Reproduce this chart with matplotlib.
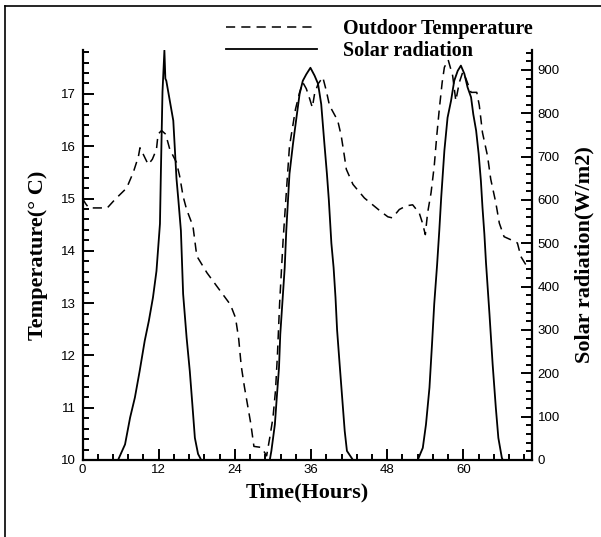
import matplotlib.pyplot as plt
from matplotlib.lines import Line2D
from matplotlib.ticker import MultipleLocator

# outdoor temperature (deg C) over three days
hours_temp = [0, 0.5, 1.0, 2.75, 3.9, 5.1, 6.95, 8.0, 8.8, 9.05, 9.55, 10.35, 11.0,
              11.65, 11.9, 12.45, 13.1, 13.75, 14.8, 15.3, 15.85, 16.4, 17.4, 18.0,
              19.6, 21.6, 23.3, 24.1, 24.6, 25.0, 25.5, 26.0, 26.5, 27.0, 28.2, 29.0,
              29.5, 30.0, 30.4, 30.7, 31.05, 31.6, 32.1, 32.6, 33.55, 34.2, 34.7,
              35.25, 35.8, 36.2, 36.55, 37.1, 37.85, 38.4, 38.9, 40.2, 40.75, 41.25,
              41.55, 42.6, 44.4, 45.7, 47.0, 48.1, 48.8, 49.9, 51.0, 52.0, 53.05,
              53.5, 54.0, 54.35, 54.9, 55.4, 55.8, 56.2, 56.65, 57.0, 57.6, 58.3,
              58.8, 59.35, 59.9, 60.4, 61.2, 62.1, 62.5, 63.0, 63.8, 64.3, 65.1,
              65.65, 66.4, 67.5, 68.5, 69.05, 70.0]
outdoor_temp = [15.0, 14.9, 14.82, 14.82, 14.82, 14.98, 15.2, 15.5, 15.8, 15.97, 15.85,
                15.65, 15.75, 15.94, 16.23, 16.3, 16.23, 15.94, 15.69, 15.43, 15.04,
                14.79, 14.47, 13.9, 13.58, 13.25, 12.97, 12.72, 12.32, 11.8, 11.4,
                11.05, 10.7, 10.26, 10.24, 10.08, 10.43, 10.81, 11.33, 12.0, 13.0,
                14.21, 15.11, 16.0, 16.71, 17.03, 17.22, 17.1, 16.9, 16.74, 17.0,
                17.19, 17.32, 17.06, 16.78, 16.49, 16.2, 15.81, 15.56, 15.27, 15.01,
                14.88, 14.75, 14.65, 14.63, 14.79, 14.86, 14.88, 14.72, 14.55, 14.31,
                14.72, 15.11, 15.62, 16.2, 16.71, 17.22, 17.51, 17.65, 17.35, 16.87,
                17.22, 17.42, 17.29, 17.03, 17.03, 16.78, 16.26, 15.81, 15.37, 14.92,
                14.53, 14.27, 14.21, 14.15, 13.89, 13.7]

# solar radiation (W/m2)
hours_solar = [0, 5.6, 6.7, 7.5, 8.25, 9.0, 9.8, 10.45, 11.1, 11.65, 12.2, 12.35, 12.6,
               12.9, 13.05, 13.2, 13.75, 14.3, 14.5, 14.8, 15.1, 15.5, 15.85, 16.4,
               16.9, 17.3, 17.7, 18.2, 18.7,
               29.5, 29.75, 30.3, 30.6, 30.95, 31.15, 31.5, 31.85, 32.1, 32.6, 33.15,
               33.7, 34.2, 34.7, 35.25, 35.9, 36.55, 37.1, 37.6, 38.1, 38.5, 38.8,
               39.2, 39.55, 39.85, 40.1, 40.5, 40.9, 41.3, 41.65, 42.6,
               52.8, 53.6, 54.1, 54.65, 55.05, 55.4, 55.85, 56.2, 56.5, 57.0, 57.5,
               58.05, 58.55, 59.1, 59.6, 60.15, 60.65, 61.2, 61.55, 62.0, 62.4, 62.75,
               63.0, 63.3, 63.55, 64.1, 64.6, 65.1, 65.5, 66.05, 66.2, 70.8]
solar_rad = [0, 0, 36, 98, 144, 205, 275, 321, 375, 436, 545, 667, 850,
             945, 880, 875, 829, 783, 730, 650, 600, 529, 383, 282,
             205, 129, 51, 14, 0,
             0, 21, 82, 144, 213, 290, 367, 444, 530, 660, 729,
             790, 845, 875, 890, 905, 887, 868, 821, 730, 660, 600,
             500, 444, 375, 300, 221, 144, 67, 21, 0,
             0, 28, 82, 167, 267, 360, 450, 530, 606, 714, 790,
             829, 875, 898, 910, 891, 860, 837, 798, 760, 706, 644,
             583, 521, 456, 337, 221, 121, 51, 5, 0, 0]

x_ticks = [0, 12, 24, 36, 48, 60]

plt.rcParams['font.family'] = 'Liberation Sans'
label_font = dict(family='Liberation Serif', weight='bold', fontsize=16)

fig = plt.figure(figsize=(6.01, 5.37), dpi=100)
ax = fig.add_axes([82.5 / 601, 77 / 537, 449.5 / 601, 410 / 537])
ax2 = ax.twinx()

line_t, = ax.plot(hours_temp, outdoor_temp, color='black', lw=1.1,
                  dashes=(6.0, 4.0), label='Outdoor Temperature')
line_s, = ax2.plot(hours_solar, solar_rad, color='black', lw=1.3,
                   label='Solar radiation')

ax.set_xlim(0, 70.8)
ax.set_ylim(10, 17.84)
ax2.set_ylim(0, 946)

ax.set_xticks(x_ticks)
ax.xaxis.set_minor_locator(MultipleLocator(2.4))
ax.yaxis.set_major_locator(MultipleLocator(1))
ax.yaxis.set_minor_locator(MultipleLocator(0.2))
ax2.yaxis.set_major_locator(MultipleLocator(100))
ax2.yaxis.set_minor_locator(MultipleLocator(20))

for a in (ax, ax2):
    a.spines['top'].set_visible(False)
    for s in a.spines.values():
        s.set_linewidth(1.6)
    a.tick_params(which='major', direction='in', length=8, width=1.4, labelsize=9.5)
    a.tick_params(which='minor', direction='in', length=4.5, width=1.4)
ax.spines['right'].set_visible(False)
ax2.spines['left'].set_visible(False)
ax2.spines['bottom'].set_visible(False)
ax.tick_params(axis='y', pad=5)
ax.tick_params(axis='x', pad=3)
ax2.tick_params(axis='y', pad=4)

ax.set_xlabel('Time(Hours)', **label_font)
ax.xaxis.set_label_coords(0.5, -0.08)
ax.xaxis.label.set_va('center')
ax.set_ylabel('Temperature(° C)', **label_font)
ax.yaxis.set_label_coords(-0.1, 0.5)
ax.yaxis.label.set_va('center')
ax2.set_ylabel('Solar radiation(W/m2)', **label_font)
ax2.yaxis.set_label_coords(1.116, 0.5)
ax2.yaxis.label.set_va('center')

fig.legend(handles=[line_t, line_s], loc='upper left',
           bbox_to_anchor=(226 / 601, 1 - 19 / 537), frameon=False,
           prop=dict(family='Liberation Serif', weight='bold', size=14.5),
           handlelength=4.5, handletextpad=1.3, labelspacing=0.1,
           borderpad=0, borderaxespad=0)

# outer frame, left and top edges
fig.add_artist(Line2D([5 / 601, 5 / 601], [0, 1 - 6 / 537], transform=fig.transFigure,
                      color='black', lw=1.2))
fig.add_artist(Line2D([5 / 601, 1], [1 - 6 / 537, 1 - 6 / 537], transform=fig.transFigure,
                      color='black', lw=1.2))

fig.savefig('out.png', dpi=100)
